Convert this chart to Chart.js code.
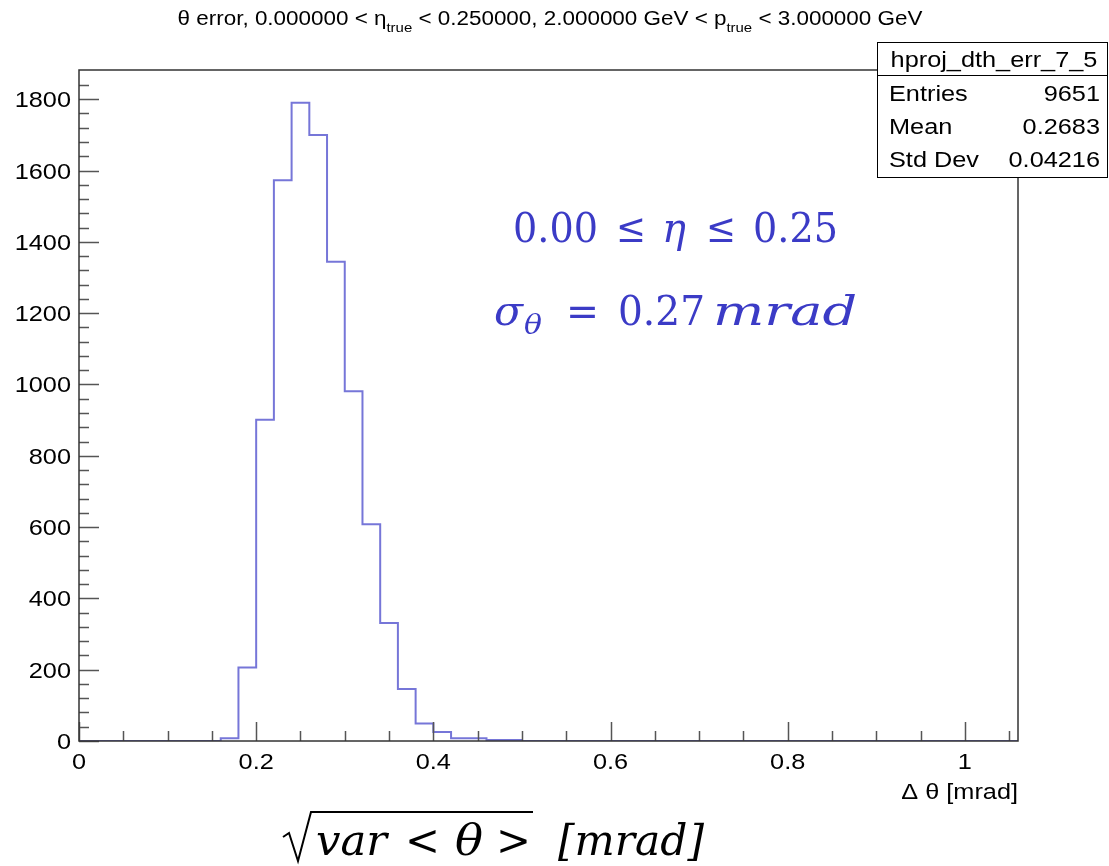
<!DOCTYPE html>
<html>
<head>
<meta charset="utf-8">
<script src="https://cdn.jsdelivr.net/npm/chart.js@4.4.0/dist/chart.umd.min.js"></script>
<style>
  html, body { margin: 0; padding: 0; background: #fff; }
  #wrap { width: 1109px; height: 866px; }
</style>
</head>
<body>
<div id="wrap"><canvas id="chart" width="1109" height="866"></canvas></div>
<script>
// histogram: 0.02 wide bins from 0 to 1.06
const binWidth = 0.02;
const xMin = 0, xMax = 1.06;
const yMax = 1882;
const counts = [
  0, 0, 0, 0, 0, 0, 0, 0,          // 0.00 - 0.16
  8, 206, 901, 1573, 1790, 1700,   // 0.16 - 0.28
  1344, 981, 608, 331, 146, 49,    // 0.28 - 0.40
  25, 8, 8, 3, 3,                  // 0.40 - 0.50
  0, 0, 0, 0, 0, 0, 0, 0, 0, 0,
  0, 0, 0, 0, 0, 0, 0, 0, 0, 0,
  0, 0, 0, 0, 0, 0, 0, 0
];
const xTicks = [0, 0.2, 0.4, 0.6, 0.8, 1];
const yTicks = [0, 200, 400, 600, 800, 1000, 1200, 1400, 1600, 1800];

const statsName = "hproj_dth_err_7_5";
const statsRows = [["Entries", "9651"], ["Mean", "0.2683"], ["Std Dev", "0.04216"]];

// step points: value of a point covers the interval before it
let points = [{ x: xMin, y: 0 }];
counts.forEach((c, i) => points.push({ x: (i + 1) * binWidth, y: c }));

const sans = '"Liberation Sans", Arial, sans-serif';
const serif = '"DejaVu Serif", "Liberation Serif", serif';
const blue = '#3b3bc6';
const SX = 1.15; // the root canvas looks a bit stretched sideways

function wideText(ctx, txt, x, y, align, font, sx) {
  ctx.save();
  ctx.font = font;
  ctx.textAlign = align;
  ctx.translate(x, y);
  ctx.scale(sx || SX, 1);
  ctx.fillText(txt, 0, 0);
  ctx.restore();
}
function wideWidth(ctx, txt, font, sx) {
  ctx.font = font;
  return ctx.measureText(txt).width * (sx || SX);
}
// text squeezed/stretched to span x0..x1 (the math font in the picture is wider)
function spanText(ctx, txt, x0, x1, y, font) {
  ctx.font = font;
  const w = ctx.measureText(txt).width;
  wideText(ctx, txt, x0, y, 'left', font, (x1 - x0) / w);
}

// draws frame, inward ticks, tick labels and all the extra text
const rootDecor = {
  id: 'rootDecor',
  afterDraw(chart) {
    const ctx = chart.ctx;
    const a = chart.chartArea;
    const xs = chart.scales.x, ys = chart.scales.y;
    ctx.save();

    // ticks (inside the frame)
    ctx.strokeStyle = '#555';
    ctx.lineWidth = 1.5;
    ctx.beginPath();
    for (let v = 0; v <= xMax + 1e-9; v += 0.05) {
      const px = Math.round(xs.getPixelForValue(v)) + 0.5;
      const major = Math.abs(v / 0.2 - Math.round(v / 0.2)) < 1e-6;
      ctx.moveTo(px, a.bottom);
      ctx.lineTo(px, a.bottom - (major ? 19 : 10));
    }
    for (let v = 0; v <= 1840; v += 40) {
      const py = Math.round(ys.getPixelForValue(v)) + 0.5;
      const major = v % 200 === 0;
      ctx.moveTo(a.left, py);
      ctx.lineTo(a.left + (major ? 20 : 10), py);
    }
    ctx.stroke();

    // frame
    ctx.strokeStyle = '#333';
    ctx.lineWidth = 1.5;
    ctx.strokeRect(a.left, a.top, a.right - a.left, a.bottom - a.top);

    // tick labels
    ctx.fillStyle = '#000';
    ctx.textBaseline = 'alphabetic';
    const tf = '22px ' + sans;
    xTicks.forEach(v => wideText(ctx, String(v), xs.getPixelForValue(v), a.bottom + 28, 'center', tf));
    yTicks.forEach(v => wideText(ctx, String(v), a.left - 8, ys.getPixelForValue(v) + 8, 'right', tf));

    // title with subscripts
    const parts = [
      ['θ error, 0.000000 < η', 19.5, 0],
      ['true', 13, 7],
      [' < 0.250000, 2.000000 GeV < p', 19.5, 0],
      ['true', 13, 7],
      [' < 3.000000 GeV', 19.5, 0]
    ];
    let total = 0;
    parts.forEach(p => { total += wideWidth(ctx, p[0], p[1] + 'px ' + sans); });
    let tx = 550 - total / 2;
    parts.forEach(p => {
      const f = p[1] + 'px ' + sans;
      wideText(ctx, p[0], tx, 25 + p[2], 'left', f);
      tx += wideWidth(ctx, p[0], f);
    });

    // x axis title
    wideText(ctx, 'Δ θ [mrad]', a.right, 799, 'right', '22px ' + sans);

    // stats box
    const bx = 877, by = 42, bw = 230, bh = 135;
    ctx.fillStyle = '#fff';
    ctx.fillRect(bx, by, bw, bh);
    ctx.strokeStyle = '#000';
    ctx.lineWidth = 1;
    ctx.strokeRect(bx + 0.5, by + 0.5, bw, bh);
    ctx.beginPath();
    ctx.moveTo(bx, by + 33.5);
    ctx.lineTo(bx + bw, by + 33.5);
    ctx.stroke();
    ctx.fillStyle = '#000';
    const sf = '22px ' + sans;
    wideText(ctx, statsName, bx + bw / 2 + 2, by + 25, 'center', sf);
    statsRows.forEach((r, i) => {
      const yy = by + 59 + i * 33;
      wideText(ctx, r[0], bx + 12, yy, 'left', sf);
      wideText(ctx, r[1], bx + bw - 7, yy, 'right', sf);
    });

    // blue annotations
    ctx.fillStyle = blue;
    const up = '41px ' + serif, it = 'italic 41px ' + serif;
    spanText(ctx, '0.00', 513, 598, 242, up);
    spanText(ctx, '≤', 616, 646, 242, up);
    spanText(ctx, 'η', 662, 686, 242, it);
    spanText(ctx, '≤', 706, 736, 242, up);
    spanText(ctx, '0.25', 753, 838, 242, up);

    spanText(ctx, 'σ', 494, 523, 325, it);
    spanText(ctx, 'θ', 524, 542, 334, 'italic 27px ' + serif);
    spanText(ctx, '=', 566, 599, 325, up);
    spanText(ctx, '0.27', 618, 705, 325, up);
    spanText(ctx, 'mrad', 713, 857, 325, it);

    // bottom label: sqrt(var < theta >) [mrad]
    ctx.fillStyle = '#000';
    ctx.strokeStyle = '#000';
    const bf = 'italic 42px ' + serif, bu = '42px ' + serif;
    const base = 855;
    spanText(ctx, 'var', 316, 387, base, bf);
    spanText(ctx, '<', 405, 440, base, bu);
    spanText(ctx, 'θ', 455, 483, base, bf);
    spanText(ctx, '>', 496, 531, base, bu);
    spanText(ctx, '[mrad]', 558, 704, base, bf);
    // radical sign drawn as a path
    ctx.lineWidth = 2;
    ctx.lineJoin = 'miter';
    ctx.beginPath();
    ctx.moveTo(283, base - 18);
    ctx.lineTo(289, base - 22);
    ctx.lineTo(298, base + 6);
    ctx.lineTo(311, base - 43);
    ctx.lineTo(533, base - 43);
    ctx.stroke();

    ctx.restore();
  }
};

new Chart(document.getElementById('chart').getContext('2d'), {
  type: 'line',
  data: {
    datasets: [{
      data: points,
      stepped: 'after',
      borderColor: 'rgba(60, 60, 200, 0.7)',
      borderWidth: 2,
      pointRadius: 0,
      fill: false
    }]
  },
  options: {
    responsive: false,
    animation: false,
    devicePixelRatio: 1,
    layout: { padding: { top: 70, right: 91, left: 0, bottom: 0 } },
    plugins: { legend: { display: false }, tooltip: { enabled: false } },
    scales: {
      x: {
        type: 'linear',
        min: xMin,
        max: xMax,
        border: { display: false },
        grid: { display: false, drawTicks: false },
        afterFit(s) { s.height = 125; },
        ticks: { display: false }
      },
      y: {
        type: 'linear',
        min: 0,
        max: yMax,
        border: { display: false },
        grid: { display: false, drawTicks: false },
        afterFit(s) { s.width = 79; },
        ticks: { display: false }
      }
    }
  },
  plugins: [rootDecor]
});
</script>
</body>
</html>
